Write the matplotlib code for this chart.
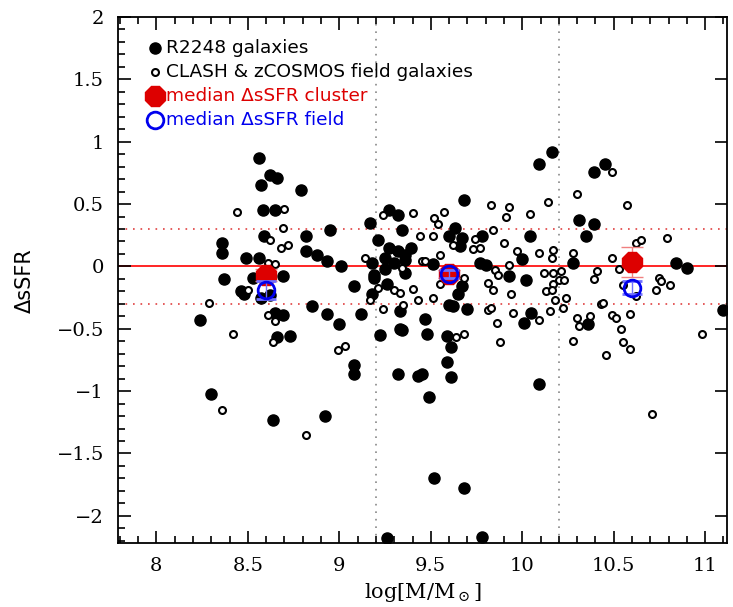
import matplotlib
matplotlib.use("Agg")
import matplotlib.pyplot as plt
from matplotlib.ticker import MultipleLocator

# R2248 cluster galaxies (filled)
cluster_x = [8.24, 8.30, 8.36, 8.36, 8.37, 8.46, 8.48, 8.49, 8.56, 8.62, 8.66,
             8.57, 8.79, 8.58, 8.65, 8.59, 8.56, 8.53, 8.69, 8.57, 8.62, 8.65,
             8.69, 8.66, 8.73, 8.82, 8.82, 8.88, 8.93, 9.01, 8.95, 8.85, 8.93,
             9.00, 9.08, 9.12, 9.17, 9.21, 9.18, 9.19, 9.19, 9.18, 9.22, 9.27,
             9.32, 9.27, 9.25, 9.30, 9.25, 9.26, 9.33, 9.34, 8.64, 8.92, 9.08,
             9.08, 9.32, 9.26, 9.43, 9.45, 9.59, 9.61, 9.61, 9.49, 10.09, 9.52,
             9.68, 9.78, 9.34, 9.39, 9.32, 9.36, 9.36, 9.36, 9.51, 9.68, 9.63,
             9.60, 9.67, 9.66, 9.78, 9.77, 9.80, 10.04, 10.00, 9.93, 10.02,
             10.09, 10.16, 10.28, 10.31, 10.39, 10.35, 10.39, 9.67, 9.65, 9.60,
             9.62, 9.70, 9.33, 9.47, 9.48, 9.59, 10.05, 10.01, 10.36, 10.45,
             10.84, 10.90, 11.10]
cluster_y = [-0.43, -1.02, 0.19, 0.11, -0.10, -0.20, -0.22, 0.07, 0.87, 0.73, 0.71,
             0.65, 0.61, 0.45, 0.45, 0.24, 0.07, -0.09, -0.08, -0.25, -0.23, -0.37,
             -0.39, -0.57, -0.56, 0.24, 0.12, 0.09, 0.04, 0.00, 0.29, -0.32, -0.38,
             -0.46, -0.16, -0.38, 0.35, 0.21, 0.03, -0.07, -0.09, -0.22, -0.55, 0.45,
             0.41, 0.15, 0.07, 0.03, -0.02, -0.14, -0.50, -0.51, -1.23, -1.20, -0.79,
             -0.86, -0.86, -2.18, -0.88, -0.86, -0.77, -0.65, -0.89, -1.05, -0.94, -1.70,
             -1.78, -2.17, 0.29, 0.15, 0.12, 0.09, 0.05, -0.05, 0.02, 0.53, 0.31,
             0.24, 0.23, 0.16, 0.24, 0.03, 0.01, 0.24, 0.06, -0.08, -0.11,
             0.82, 0.92, 0.03, 0.37, 0.34, 0.24, 0.76, -0.16, -0.22, -0.31,
             -0.32, -0.34, -0.36, -0.42, -0.54, -0.56, -0.37, -0.45, -0.46, 0.82,
             0.03, -0.01, -0.35]

# CLASH & zCOSMOS field galaxies (open)
field_x = [8.29, 8.36, 8.42, 8.44, 8.50, 8.61, 8.65, 8.61, 8.65, 8.64, 8.62, 8.68,
           8.72, 8.69, 8.70, 8.82, 8.99, 9.03, 9.14, 9.21, 9.17, 9.24, 9.24, 9.30,
           9.34, 9.40, 9.57, 9.52, 9.54, 9.44, 9.51, 9.62, 9.55, 9.45, 9.47, 9.68,
           9.55, 9.40, 9.33, 9.51, 9.43, 9.35, 9.83, 9.93, 9.91, 10.04, 10.14, 10.30,
           9.84, 9.74, 9.77, 9.73, 9.90, 9.97, 10.09, 10.17, 10.16, 10.28, 9.93, 9.85,
           9.87, 9.81, 9.84, 9.94, 10.12, 10.17, 10.21, 10.20, 10.23, 10.17, 10.13,
           10.16, 10.24, 10.18, 10.22, 9.81, 9.83, 9.95, 10.15, 10.09, 9.86, 10.30,
           10.37, 10.31, 9.64, 9.68, 9.88, 10.28, 10.39, 10.41, 10.43, 10.49, 10.57,
           10.62, 10.65, 10.79, 10.49, 10.53, 10.55, 10.62, 10.73, 10.75, 10.76, 10.81,
           10.44, 10.49, 10.51, 10.59, 10.54, 10.55, 10.59, 10.46, 10.98, 10.71]
field_y = [-0.29, -1.15, -0.54, 0.44, -0.19, 0.03, 0.02, -0.39, -0.44, -0.61, 0.21, 0.15,
           0.17, 0.31, 0.46, -1.35, -0.67, -0.64, 0.07, -0.17, -0.27, -0.34, 0.41, -0.19,
           -0.01, 0.43, 0.44, 0.39, 0.34, 0.24, 0.24, 0.17, 0.09, 0.04, 0.04, -0.09,
           -0.14, -0.18, -0.21, -0.25, -0.27, -0.31, 0.49, 0.48, 0.40, 0.42, 0.52, 0.58,
           0.29, 0.22, 0.15, 0.14, 0.19, 0.12, 0.11, 0.13, 0.07, 0.11, 0.01, -0.03,
           -0.07, -0.13, -0.19, -0.22, -0.05, -0.05, -0.04, -0.11, -0.11, -0.14, -0.20,
           -0.19, -0.25, -0.27, -0.33, -0.35, -0.33, -0.37, -0.36, -0.43, -0.45, -0.41,
           -0.40, -0.48, -0.57, -0.54, -0.61, -0.60, -0.10, -0.04, -0.30, 0.76, 0.49,
           0.19, 0.21, 0.23, 0.07, -0.02, -0.15, -0.24, -0.19, -0.09, -0.12, -0.15,
           -0.29, -0.39, -0.41, -0.38, -0.50, -0.61, -0.66, -0.71, -0.54, -1.18]

# medians in mass bins
median_x = [8.6, 9.6, 10.6]
median_cluster = [-0.07, -0.06, 0.035]
median_cluster_err = [0.05, 0.03, 0.12]
median_field = [-0.19, -0.06, -0.17]
median_field_err = [0.07, 0.03, 0.055]


def main():
    plt.rcParams["mathtext.fontset"] = "dejavuserif"
    fig = plt.figure(figsize=(7.33, 6.07), dpi=100)
    ax = fig.add_axes([0.161, 0.105, 0.831, 0.867])

    ax.axhline(0, color="red", lw=1.2, zorder=1)
    for yv in (0.3, -0.3):
        ax.axhline(yv, color="#e04040", lw=1.2, ls=(0, (1, 3.5)), zorder=1)
    for xv in (9.2, 10.2):
        ax.axvline(xv, color="#888888", lw=1.2, ls=(0, (1, 3.5)), zorder=1)

    ax.plot(cluster_x, cluster_y, "o", color="black", ms=8, zorder=3)
    ax.plot(field_x, field_y, "o", mfc="white", mec="black", ms=5, mew=1.5, zorder=3)

    ax.errorbar(median_x, median_cluster, yerr=median_cluster_err, fmt="8",
                color="#dd0000", ms=16, ecolor="#f08080", elinewidth=1,
                capsize=8, zorder=4)
    ax.errorbar(median_x, median_field, yerr=median_field_err, fmt="o",
                mfc="none", mec="#0000ee", mew=2, ms=12, ecolor="#7070ff",
                elinewidth=1, capsize=7, zorder=5)

    # legend drawn by hand
    tx = 0.078
    fs = 13.3
    ax.plot([0.061], [0.941], "o", color="black", ms=8, transform=ax.transAxes)
    ax.text(tx, 0.941, "R2248 galaxies", transform=ax.transAxes,
            va="center", fontsize=fs)
    ax.plot([0.061], [0.895], "o", mfc="white", mec="black", ms=5, mew=1.5,
            transform=ax.transAxes)
    ax.text(tx, 0.895, "CLASH & zCOSMOS field galaxies", transform=ax.transAxes,
            va="center", fontsize=fs)
    ax.plot([0.061], [0.850], "8", color="#dd0000", ms=16, transform=ax.transAxes)
    ax.text(tx, 0.850, "median \u0394sSFR cluster", transform=ax.transAxes,
            va="center", fontsize=fs, color="#dd0000")
    ax.plot([0.061], [0.804], "o", mfc="none", mec="#0000ee", mew=2, ms=12,
            transform=ax.transAxes)
    ax.text(tx, 0.804, "median \u0394sSFR field", transform=ax.transAxes,
            va="center", fontsize=fs, color="#0000ee")

    ax.set_xlim(7.79, 11.12)
    ax.set_ylim(-2.22, 2.0)
    ax.xaxis.set_major_locator(MultipleLocator(0.5))
    ax.xaxis.set_minor_locator(MultipleLocator(0.1))
    ax.yaxis.set_major_locator(MultipleLocator(0.5))
    ax.yaxis.set_minor_locator(MultipleLocator(0.1))
    ax.tick_params(which="both", direction="in", top=True, right=True, width=1.2)
    ax.tick_params(which="major", length=9, pad=10, labelsize=14)
    ax.tick_params(which="minor", length=5, right=False)
    ax.set_xticks([8, 8.5, 9, 9.5, 10, 10.5, 11])
    ax.set_xticklabels(["8", "8.5", "9", "9.5", "10", "10.5", "11"],
                       family="DejaVu Serif")
    ax.set_yticks([-2, -1.5, -1, -0.5, 0, 0.5, 1, 1.5, 2])
    ax.set_yticklabels(["\u22122", "\u22121.5", "\u22121", "\u22120.5", "0",
                        "0.5", "1", "1.5", "2"], family="DejaVu Serif")
    for sp in ax.spines.values():
        sp.set_linewidth(1.3)

    ax.set_xlabel(r"log[M/M$_\odot$]", fontsize=15, family="DejaVu Serif")
    ax.set_ylabel("\u0394sSFR", fontsize=15, labelpad=16)

    fig.savefig("out.png", dpi=100)


if __name__ == "__main__":
    main()
